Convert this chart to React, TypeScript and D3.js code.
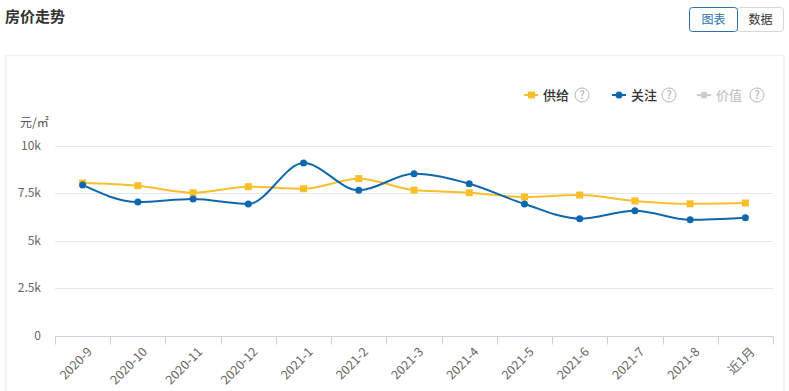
import { useEffect, useRef } from "react";
import * as d3 from "d3";

const W = 789;
const H = 391;

const categories = [
  "2020-9", "2020-10", "2020-11", "2020-12", "2021-1", "2021-2", "2021-3",
  "2021-4", "2021-5", "2021-6", "2021-7", "2021-8", "近1月",
];
// 供给 (supply)
const supply = [8030, 7890, 7520, 7840, 7730, 8260, 7660, 7520, 7300, 7400, 7090, 6940, 6980];
// 关注 (attention)
const attention = [7930, 7030, 7190, 6930, 9080, 7650, 8520, 7990, 6930, 6160, 6580, 6100, 6210];
const yTicks = [0, 2500, 5000, 7500, 10000];
const yTickLabels = ["0", "2.5k", "5k", "7.5k", "10k"];

const YELLOW = "#f8bf2a";
const BLUE = "#0f68ad";
const FONT = "'Noto Sans CJK SC', 'Noto Sans', sans-serif";

export default function App() {
  const svgRef = useRef<SVGSVGElement>(null);

  useEffect(() => {
    if (!svgRef.current) return;
    const svg = d3.select(svgRef.current);
    svg.selectAll("*").remove();

    const margin = { left: 55, right: 16, top: 145.5, bottom: 55 };
    const x = d3.scaleBand().domain(categories).range([margin.left, W - margin.right]);
    const y = d3.scaleLinear().domain([0, 10000]).range([H - margin.bottom, margin.top]);

    // header
    svg.append("text").attr("x", 5).attr("y", 22).attr("font-size", 15).attr("font-weight", "bold")
      .attr("fill", "#333").attr("font-family", FONT).text("房价走势");

    const btn = svg.append("g");
    btn.append("rect").attr("x", 737.5).attr("y", 7.5).attr("width", 46).attr("height", 24).attr("rx", 3)
      .attr("fill", "#fff").attr("stroke", "#d6d6d6");
    btn.append("rect").attr("x", 689.5).attr("y", 7.5).attr("width", 48).attr("height", 24).attr("rx", 3)
      .attr("fill", "#fff").attr("stroke", "#2a6fb0");
    btn.append("text").attr("x", 713.5).attr("y", 24).attr("text-anchor", "middle").attr("font-size", 12)
      .attr("fill", "#2a6fb0").attr("font-family", FONT).text("图表");
    btn.append("text").attr("x", 760.5).attr("y", 24).attr("text-anchor", "middle").attr("font-size", 12)
      .attr("fill", "#333").attr("font-family", FONT).text("数据");

    // panel frame
    svg.append("rect").attr("x", 6).attr("y", 55.5).attr("width", 778).attr("height", 340)
      .attr("fill", "#fff").attr("stroke", "#f1f1f4").attr("stroke-width", 1.5);

    // legend
    const legend = [
      { name: "供给", color: YELLOW, text: "#333", shape: "square", x: 524, q: 58 },
      { name: "关注", color: BLUE, text: "#333", shape: "circle", x: 612, q: 57 },
      { name: "价值", color: "#cccccc", text: "#c4c4c4", shape: "circle", x: 697, q: 60 },
    ];
    legend.forEach(l => {
      const g = svg.append("g").attr("transform", `translate(${l.x},95)`);
      g.append("line").attr("x1", 0).attr("x2", 14).attr("stroke", l.color).attr("stroke-width", 2);
      if (l.shape === "square") g.append("rect").attr("x", 4).attr("y", -3.5).attr("width", 7).attr("height", 7).attr("fill", l.color);
      else g.append("circle").attr("cx", 7).attr("r", 3.5).attr("fill", l.color);
      g.append("text").attr("x", 19).attr("y", 4.5).attr("font-size", 13).attr("font-weight", 500)
        .attr("fill", l.text).attr("font-family", FONT).text(l.name);
      g.append("circle").attr("cx", l.q).attr("cy", 0).attr("r", 7).attr("fill", "none").attr("stroke", "#b5b5b5").attr("stroke-width", 1);
      g.append("text").attr("x", l.q).attr("y", 4).attr("text-anchor", "middle").attr("font-size", 11)
        .attr("fill", "#a5a5a5").attr("font-family", FONT).text("?");
    });

    // unit
    svg.append("text").attr("x", 20).attr("y", 127).attr("font-size", 12).attr("fill", "#555")
      .attr("font-family", FONT).text("元/㎡");

    // grid + y labels
    yTicks.forEach((t, i) => {
      if (t > 0) svg.append("line").attr("x1", margin.left).attr("x2", W - margin.right)
        .attr("y1", Math.round(y(t)) + 0.5).attr("y2", Math.round(y(t)) + 0.5).attr("stroke", "#e8e8ec");
      svg.append("text").attr("x", 41).attr("y", y(t) + 4).attr("text-anchor", "end").attr("font-size", 12)
        .attr("fill", "#666").attr("font-family", FONT).text(yTickLabels[i]);
    });

    // x axis
    const y0 = Math.round(y(0)) + 0.5;
    svg.append("line").attr("x1", margin.left).attr("x2", W - margin.right).attr("y1", y0).attr("y2", y0)
      .attr("stroke", "#cdcde0");
    const edges = categories.map(c => x(c)!).concat([W - margin.right]);
    edges.forEach(e => {
      svg.append("line").attr("x1", Math.round(e) + 0.5).attr("x2", Math.round(e) + 0.5)
        .attr("y1", y0).attr("y2", y0 + 8).attr("stroke", "#cdcde0");
    });
    categories.forEach(c => {
      const cx = x(c)! + x.bandwidth() / 2;
      svg.append("text").attr("transform", `translate(${cx + 4},${y0 + 10}) rotate(-45)`)
        .attr("text-anchor", "end").attr("dy", "0.7em").attr("font-size", 12.5).attr("fill", "#666")
        .attr("font-family", FONT).text(c);
    });

    const cxOf = (i: number) => x(categories[i])! + x.bandwidth() / 2;
    const line = d3.line<number>().x((_, i) => cxOf(i)).y(d => y(d)).curve(d3.curveMonotoneX);

    svg.append("path").attr("d", line(supply) ?? "").attr("fill", "none").attr("stroke", YELLOW).attr("stroke-width", 2);
    svg.append("path").attr("d", line(attention) ?? "").attr("fill", "none").attr("stroke", BLUE).attr("stroke-width", 2);

    supply.forEach((v, i) => {
      svg.append("rect").attr("x", cxOf(i) - 3.5).attr("y", y(v) - 3.5).attr("width", 7).attr("height", 7).attr("fill", YELLOW);
    });
    attention.forEach((v, i) => {
      svg.append("circle").attr("cx", cxOf(i)).attr("cy", y(v)).attr("r", 3.5).attr("fill", BLUE);
    });
  }, []);

  return (
    <svg ref={svgRef} width={W} height={H}
      style={{ position: "fixed", left: 0, top: 0, display: "block", background: "#fff" }} />
  );
}
